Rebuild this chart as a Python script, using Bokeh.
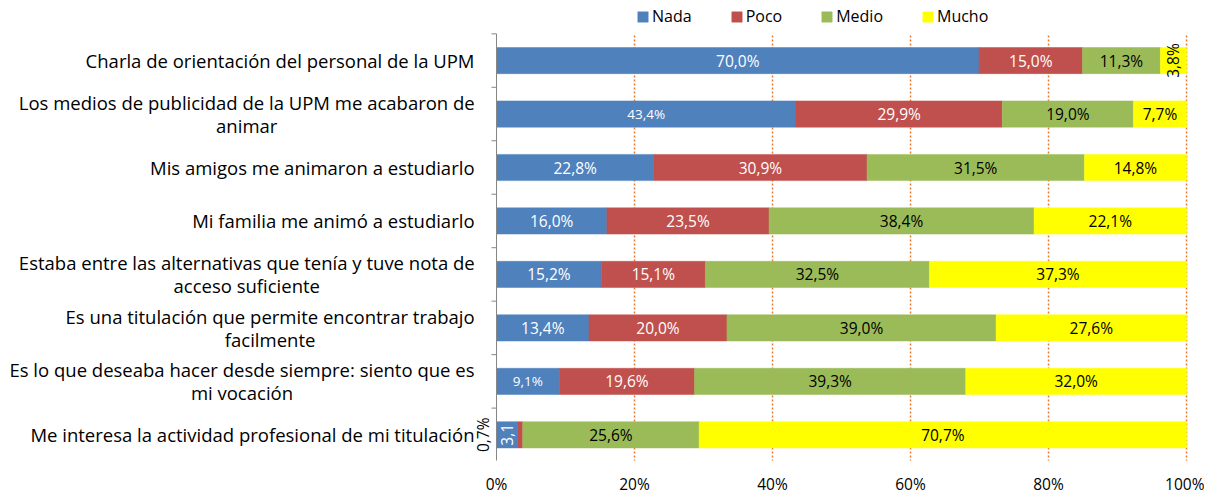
import math
from bokeh.plotting import figure
from bokeh.models import Range1d, FixedTicker, Legend, LegendItem, ColumnDataSource
from bokeh.core.properties import value
from bokeh.embed import file_html
from bokeh.resources import INLINE

categories = [
    "Charla de orientación del personal de la UPM",
    "Los medios de publicidad de la UPM me acabaron de\nanimar",
    "Mis amigos me animaron a estudiarlo",
    "Mi familia me animó a estudiarlo",
    "Estaba entre las alternativas que tenía y tuve nota de\nacceso suficiente",
    "Es una titulación que permite encontrar trabajo\nfacilmente",
    "Es lo que deseaba hacer desde siempre: siento que es\nmi vocación",
    "Me interesa la actividad profesional de mi titulación",
]
nada = [70.0, 43.4, 22.8, 16.0, 15.2, 13.4, 9.1, 3.1]
poco = [15.0, 29.9, 30.9, 23.5, 15.1, 20.0, 19.6, 0.7]
medio = [11.3, 19.0, 31.5, 38.4, 32.5, 39.0, 39.3, 25.6]
mucho = [3.8, 7.7, 14.8, 22.1, 37.3, 27.6, 32.0, 70.7]
series_names = ["Nada", "Poco", "Medio", "Mucho"]
x_ticks = [0, 20, 40, 60, 80, 100]

series = [nada, poco, medio, mucho]
colors = ["#4F81BD", "#C0504D", "#9BBB59", "#FFFF00"]
label_colors = ["white", "white", "black", "black"]
FONT = "Open Sans"
CAT_PX = 18.5

n = len(categories)
centers = [n - i - 0.5 for i in range(n)]
bounds = list(range(n + 1))
totals = [sum(s[i] for s in series) for i in range(n)]

PX_X = 6.9     # px per x unit
PX_Y = 53.29   # px per category

# approximate Open Sans advance widths (per 2048 em)
ADV = {" ": 532, "a": 1139, "b": 1255, "c": 975, "d": 1255, "e": 1149, "f": 694,
       "g": 1122, "h": 1257, "i": 518, "j": 518, "k": 1075, "l": 518, "m": 1905,
       "n": 1257, "o": 1237, "p": 1255, "q": 1255, "r": 836, "s": 977, "t": 723,
       "u": 1257, "v": 1026, "w": 1593, "x": 1073, "y": 1028, "z": 977, "í": 518,
       "ó": 1237, "á": 1139, ":": 545, "E": 1120, "L": 1020, "M": 1823, "C": 1272,
       "U": 1466, "P": 1237}

def est_width(s, px):
    return sum(ADV.get(ch, 1150) for ch in s) / 2048.0 * px

p = figure(width=1204, height=497, output_backend="svg", toolbar_location=None,
           x_range=Range1d(-71.16, 101.88), y_range=Range1d(0.02, 8.53))
p.outline_line_color = None
p.xgrid.grid_line_color = None
p.ygrid.grid_line_color = None
p.yaxis.visible = False

# dotted vertical guides
p.segment(x0=x_ticks[1:], x1=x_ticks[1:], y0=[0] * 5, y1=[n] * 5,
          line_color="#E97A2C", line_dash="2 2", line_width=1.5)

renderers = []
lefts = [0.0] * n
for k, s in enumerate(series):
    l = list(lefts)
    r = [lefts[i] + s[i] / totals[i] * 100 for i in range(n)]
    rr = p.hbar(y=centers, left=l, right=r, height=0.49,
                fill_color=colors[k], line_color=colors[k], line_width=0.5)
    renderers.append(rr)
    groups = {"15.5px": dict(x=[], y=[], text=[], angle=[], color=[]),
              "13.5px": dict(x=[], y=[], text=[], angle=[], color=[])}
    for i in range(n):
        v = s[i]
        w = r[i] - l[i]
        t = f"{v:.1f}%".replace(".", ",")
        x = (l[i] + r[i]) / 2
        a = 0.0
        col = label_colors[k]
        if w < 2:
            x = -1.9
            a = math.pi / 2
            col = "black"
        elif w < 5:
            a = math.pi / 2
            if k == 0:
                t = t.rstrip("%")
        sz = "13.5px" if (k == 0 and (5 <= v < 10 or 40 < v < 50)) else "15.5px"
        g = groups[sz]
        g["x"].append(x); g["y"].append(centers[i]); g["text"].append(t)
        g["angle"].append(a); g["color"].append(col)
    for sz, g in groups.items():
        if not g["x"]:
            continue
        p.text(x="x", y="y", text="text", angle="angle", source=ColumnDataSource(g),
               text_align="center", text_baseline="middle",
               text_font=value(FONT), text_font_size=value(sz),
               text_color="color")
    lefts = r

# axis line and boundary ticks
p.segment(x0=[0], x1=[0], y0=[0], y1=[n], line_color="#868686", line_width=1)
p.segment(x0=[-5.0 / PX_X] * len(bounds), x1=[0] * len(bounds), y0=bounds, y1=bounds,
          line_color="#868686", line_width=1)

# category labels (left of the axis; two-line ones centred on each other)
right_edge = -22.0 / PX_X
dy = 11.5 / PX_Y
single = dict(x=[], y=[], text=[])
multi = dict(x=[], y=[], text=[])
for i, c in enumerate(categories):
    parts = c.split("\n")
    if len(parts) == 1:
        single["x"].append(right_edge); single["y"].append(centers[i]); single["text"].append(c)
    else:
        w1 = est_width(parts[0], CAT_PX)
        cx = right_edge - (w1 / 2) / PX_X
        multi["x"] += [cx, cx]
        multi["y"] += [centers[i] + dy, centers[i] - dy]
        multi["text"] += parts
p.text(x="x", y="y", text="text", source=ColumnDataSource(single),
       text_align="right", text_baseline="middle",
       text_font=value(FONT), text_font_size=value(f"{CAT_PX}px"), text_color="black")
p.text(x="x", y="y", text="text", source=ColumnDataSource(multi),
       text_align="center", text_baseline="middle",
       text_font=value(FONT), text_font_size=value(f"{CAT_PX}px"), text_color="black")

# x axis
p.xaxis.ticker = FixedTicker(ticks=x_ticks)
p.xaxis.major_label_overrides = {t: f"{t}%" for t in x_ticks}
p.xaxis.axis_line_color = None
p.xaxis.major_tick_line_color = None
p.xaxis.major_tick_out = 0
p.xaxis.major_tick_in = 0
p.xaxis.minor_tick_line_color = None
p.xaxis.major_label_standoff = 12
p.xaxis.major_label_text_font = FONT
p.xaxis.major_label_text_font_size = "15.5px"
p.xaxis.major_label_text_color = "black"

legend = Legend(items=[LegendItem(label=series_names[k], renderers=[renderers[k]]) for k in range(4)],
                orientation="horizontal", location=(631, 433), spacing=38,
                glyph_width=13, glyph_height=13, label_standoff=3, padding=0,
                margin=0, border_line_alpha=0, background_fill_alpha=0,
                label_text_font=FONT, label_text_font_size="16px",
                label_text_color="black")
p.add_layout(legend)

open("out.html", "w").write(file_html(p, INLINE))
